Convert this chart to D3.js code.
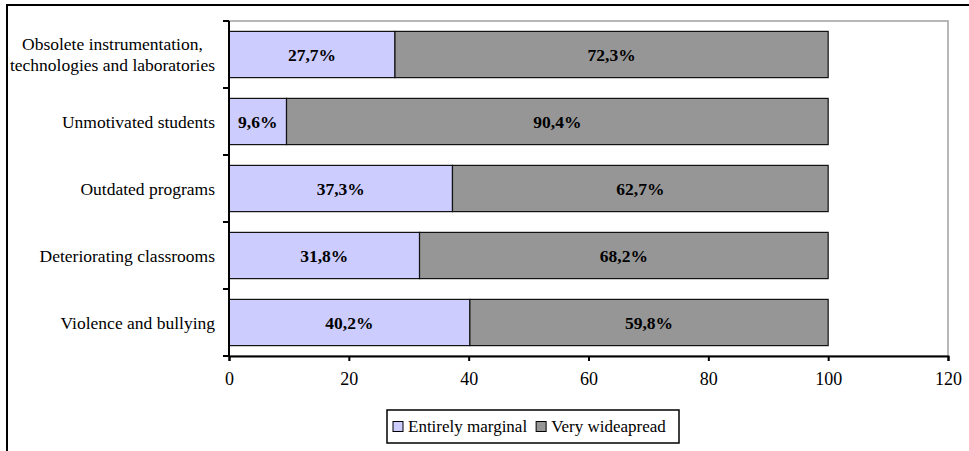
<!DOCTYPE html>
<html>
<head>
<meta charset="utf-8">
<script src="https://cdn.jsdelivr.net/npm/d3@7"></script>
<style>
  html, body { margin: 0; padding: 0; background: #fff; }
  svg { display: block; }
  svg text { font-family: "Liberation Serif", "Tinos", "Times New Roman", "DejaVu Serif", serif; fill: #000; }
</style>
</head>
<body>
<svg id="chart" width="969" height="451"></svg>
<script>
// Problems reported by schools: share of answers per category
const categories = [
  ["Obsolete instrumentation,", "technologies and laboratories"],
  ["Unmotivated students"],
  ["Outdated programs"],
  ["Deteriorating classrooms"],
  ["Violence and bullying"]
];
const marginal = [27.7, 9.6, 37.3, 31.8, 40.2];
const widespread = [72.3, 90.4, 62.7, 68.2, 59.8];
const seriesNames = ["Entirely marginal", "Very wideapread"];
const xTicks = [0, 20, 40, 60, 80, 100, 120];

const colors = ["#ccccff", "#969696"];
const fmt = v => v.toFixed(1).replace(".", ",") + "%";
const FONT = "'Liberation Serif', Tinos, 'Times New Roman', 'DejaVu Serif', serif";

const svg = d3.select("#chart");
const W = 969, H = 451;
const plot = { left: 229, top: 21, right: 948, bottom: 356 };

// Outer frame (runs off the right and bottom edges)
svg.append("rect")
  .attr("x", 7).attr("y", 5)
  .attr("width", W + 20).attr("height", H + 20)
  .attr("fill", "none").attr("stroke", "#000").attr("stroke-width", 2);

const keys = categories.map((c, i) => i);
const x = d3.scaleLinear().domain([0, 120]).range([plot.left, plot.right]);
const y = d3.scaleBand().domain(keys).range([plot.top, plot.bottom])
  .paddingInner(0.31).paddingOuter(0.155);

// Plot area border
svg.append("rect")
  .attr("x", plot.left).attr("y", plot.top)
  .attr("width", plot.right - plot.left).attr("height", plot.bottom - plot.top)
  .attr("fill", "none").attr("stroke", "#a0a0a0").attr("stroke-width", 1.5);

// Stacked bars
const rows = keys.map(i => ({ i, parts: [
  { s: 0, x0: 0, x1: marginal[i], v: marginal[i] },
  { s: 1, x0: marginal[i], x1: marginal[i] + widespread[i], v: widespread[i] }
]}));

const g = svg.append("g");
rows.forEach(r => {
  r.parts.forEach(p => {
    g.append("rect")
      .attr("x", x(p.x0)).attr("y", y(r.i))
      .attr("width", x(p.x1) - x(p.x0)).attr("height", y.bandwidth())
      .attr("fill", colors[p.s]).attr("stroke", "#111").attr("stroke-width", 1.2);
    g.append("text")
      .attr("x", (x(p.x0) + x(p.x1)) / 2)
      .attr("y", y(r.i) + y.bandwidth() / 2)
      .attr("dy", "0.35em")
      .attr("text-anchor", "middle")
      .attr("font-family", FONT)
      .attr("font-weight", "bold")
      .attr("font-size", 17.5)
      .text(fmt(p.v));
  });
});

// Bottom axis
const xAxis = svg.append("g")
  .attr("transform", `translate(0,${plot.bottom})`)
  .call(d3.axisBottom(x).tickValues(xTicks).tickSize(5).tickPadding(11).tickFormat(d3.format("d")));
xAxis.attr("font-family", FONT);
xAxis.select(".domain").attr("stroke", "#000").attr("stroke-width", 2);
xAxis.selectAll(".tick line").attr("stroke", "#000").attr("stroke-width", 2);
xAxis.selectAll(".tick text").attr("font-family", FONT).attr("font-size", 18).attr("fill", "#000");

// Left axis line with ticks between categories
const yl = svg.append("g");
yl.append("line")
  .attr("x1", plot.left).attr("x2", plot.left)
  .attr("y1", plot.top).attr("y2", plot.bottom)
  .attr("stroke", "#000").attr("stroke-width", 2);
const boundaries = keys.map(i => y(i) - y.step() * y.paddingInner() / 2).concat([plot.bottom]);
yl.selectAll("line.tk").data(boundaries).join("line")
  .attr("class", "tk")
  .attr("x1", plot.left - 6).attr("x2", plot.left)
  .attr("y1", d => d).attr("y2", d => d)
  .attr("stroke", "#000").attr("stroke-width", 2);

// Category labels
const labelRight = 215;
const lineH = 21;
keys.forEach(i => {
  const lines = categories[i];
  const cy = y(i) + y.bandwidth() / 2;
  const t = svg.append("text").attr("font-size", 17.5).attr("font-family", FONT);
  const spans = lines.map((ln, k) => t.append("tspan")
    .attr("y", cy + (k - (lines.length - 1) / 2) * lineH)
    .attr("dy", "0.35em")
    .text(ln));
  const widths = spans.map(s => s.node().getComputedTextLength());
  const maxW = d3.max(widths);
  spans.forEach(s => s.attr("x", labelRight - maxW / 2).attr("text-anchor", "middle"));
});

// Legend
const leg = svg.append("g");
const legX = 387, legY = 410, legW = 292, legH = 33;
leg.append("rect")
  .attr("x", legX).attr("y", legY).attr("width", legW).attr("height", legH)
  .attr("fill", "#fff").attr("stroke", "#000").attr("stroke-width", 1.5);
let cx = legX + 6;
seriesNames.forEach((name, k) => {
  leg.append("rect")
    .attr("x", cx).attr("y", legY + legH / 2 - 5)
    .attr("width", 10).attr("height", 10)
    .attr("fill", colors[k]).attr("stroke", "#000").attr("stroke-width", 1);
  const t = leg.append("text")
    .attr("x", cx + 15).attr("y", legY + legH / 2).attr("dy", "0.35em")
    .attr("font-family", FONT)
    .attr("font-size", 17).text(name);
  cx += 15 + t.node().getComputedTextLength() + 9;
});
</script>
</body>
</html>
